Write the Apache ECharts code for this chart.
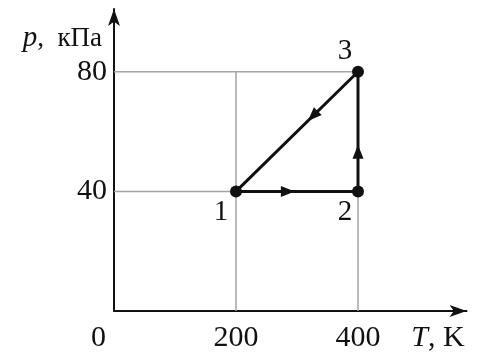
<!DOCTYPE html>
<html>
<head>
<meta charset="utf-8">
<script src="https://cdn.jsdelivr.net/npm/echarts@6/dist/echarts.min.js"></script>
<style>
  html, body { margin: 0; padding: 0; background: #fff; }
  #chart { width: 480px; height: 353px; }
</style>
</head>
<body>
<div id="chart"></div>
<script>
// Cycle 1 -> 2 -> 3 -> 1 on the p–T plane
const stateNames = ['1', '2', '3'];
const stateT = [200, 400, 400];      // K
const stateP = [40, 40, 80];         // kPa

// Direction markers along each leg (T, p, heading in degrees)
const arrowT = [285, 400, 326];
const arrowP = [40, 53.3, 65.2];
const arrowRot = [-90, 0, 135];

// Reference grid lines
const gridT = [200, 400];
const gridP = [40, 80];

// Tick labels shown on the axes
const xTicks = [0, 200, 400];
const yTicks = [40, 80];

const serif = 'Liberation Serif';
const black = '#111';
const grey = '#a3a3a3';

const X_MAX = 578, Y_MAX = 101;
const PX_T = 0.61, PX_P = 3;

const cycle = stateT.map((t, i) => [t, stateP[i]]);
cycle.push([stateT[0], stateP[0]]);

const guideSeries = [];
gridP.forEach(p => guideSeries.push({
  type: 'line', data: [[0, p], [gridT[gridT.length - 1], p]],
  showSymbol: false, silent: true, z: 1,
  lineStyle: { color: grey, width: 1.5 }
}));
gridT.forEach(t => guideSeries.push({
  type: 'line', data: [[t, 0], [t, gridP[gridP.length - 1]]],
  showSymbol: false, silent: true, z: 1,
  lineStyle: { color: grey, width: 1.5 }
}));

const labelOffsets = [[-15, 21], [-13, 21], [-13, -20]];

const chart = echarts.init(document.getElementById('chart'));
chart.setOption({
  animation: false,
  backgroundColor: '#fff',
  grid: {
    left: 114,
    top: 312 - Y_MAX * PX_P,
    width: X_MAX * PX_T,
    height: Y_MAX * PX_P
  },
  xAxis: {
    type: 'value', min: 0, max: X_MAX, interval: 200,
    splitLine: { show: false },
    axisTick: { show: false },
    axisLine: {
      lineStyle: { color: black, width: 2 },
      symbol: ['none', 'arrow'], symbolSize: [9, 17]
    },
    axisLabel: {
      margin: 12,
      fontFamily: serif, fontSize: 30, color: black,
      formatter: v => v === 0 ? '{z|0}' : (xTicks.includes(v) ? String(v) : ''),
      rich: { z: { fontFamily: serif, fontSize: 30, color: black, padding: [0, 31, 0, 0] } }
    },
    name: '{i|T}, K',
    nameLocation: 'end',
    nameGap: -2,
    nameTextStyle: {
      fontFamily: serif, fontSize: 30, color: black,
      align: 'right', verticalAlign: 'top', padding: [12, 0, 0, 0],
      rich: { i: { fontFamily: serif, fontSize: 30, fontStyle: 'italic', color: black } }
    }
  },
  yAxis: {
    type: 'value', min: 0, max: Y_MAX, interval: 40,
    splitLine: { show: false },
    axisTick: { show: false },
    axisLine: {
      lineStyle: { color: black, width: 2 },
      symbol: ['none', 'arrow'], symbolSize: [9, 17]
    },
    axisLabel: {
      margin: 7,
      fontFamily: serif, fontSize: 30, color: black,
      formatter: v => yTicks.includes(v) ? String(v) : ''
    },
    name: '{i|p},  кПа',
    nameLocation: 'end',
    nameGap: -15,
    nameTextStyle: {
      fontFamily: serif, fontSize: 27, color: black,
      align: 'right', verticalAlign: 'top', padding: [0, 12, 0, 0],
      rich: { i: { fontFamily: serif, fontSize: 29, fontStyle: 'italic', color: black } }
    }
  },
  series: [
    ...guideSeries,
    {
      type: 'line', data: cycle, showSymbol: false, silent: true, z: 3,
      lineStyle: { color: black, width: 3 }
    },
    {
      type: 'scatter', z: 4, symbol: 'triangle', symbolSize: [11, 14],
      itemStyle: { color: black, opacity: 1 },
      data: arrowT.map((t, i) => ({ value: [t, arrowP[i]], symbolRotate: arrowRot[i] }))
    },
    {
      type: 'scatter', z: 5, symbol: 'circle', symbolSize: 12,
      itemStyle: { color: black, opacity: 1 },
      label: {
        show: true, position: 'inside',
        fontFamily: serif, fontSize: 29, color: black
      },
      data: stateT.map((t, i) => ({
        value: [t, stateP[i]],
        label: { offset: labelOffsets[i], formatter: stateNames[i] }
      }))
    }
  ]
});
</script>
</body>
</html>
